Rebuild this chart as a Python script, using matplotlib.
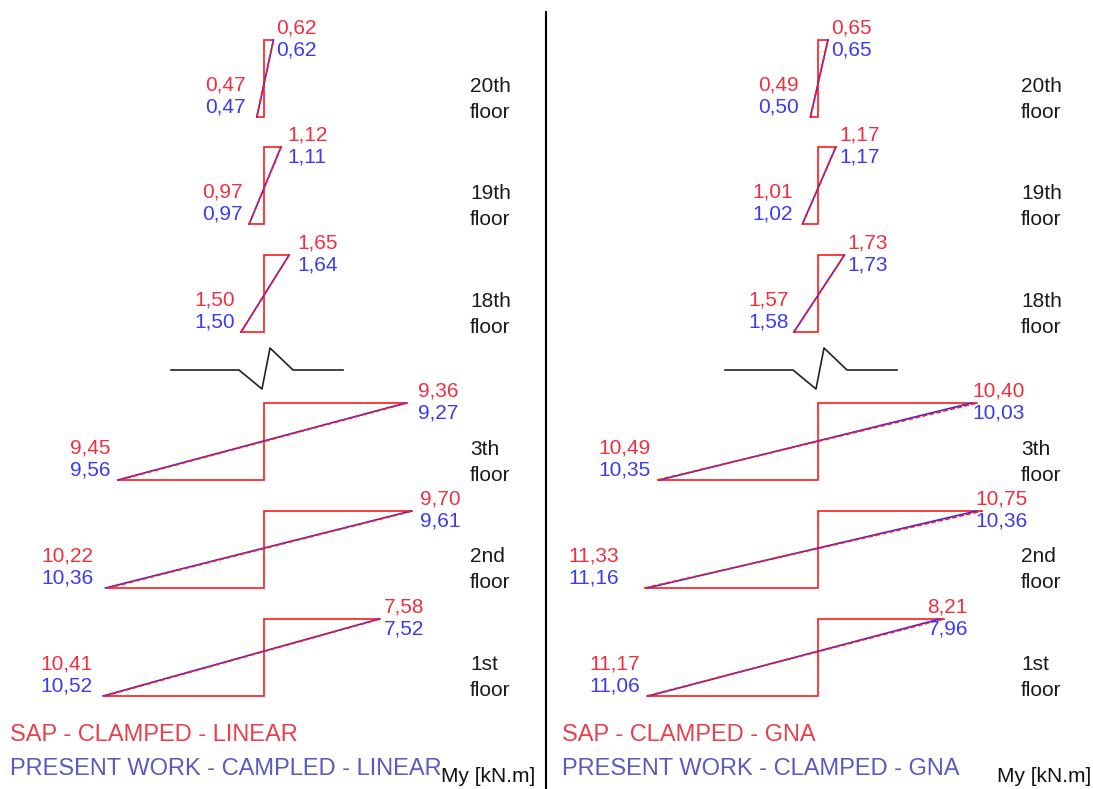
import matplotlib
matplotlib.use("Agg")
import matplotlib.pyplot as plt
from matplotlib.lines import Line2D

plt.rcParams['font.family'] = ['Liberation Sans', 'DejaVu Sans']

# ---------------- data ----------------
floors = ["20th", "19th", "18th", "3th", "2nd", "1st"]

# left panel: linear analysis
lin_sap_left = [0.47, 0.97, 1.50, 9.45, 10.22, 10.41]
lin_sap_right = [0.62, 1.12, 1.65, 9.36, 9.70, 7.58]
lin_pw_left = [0.47, 0.97, 1.50, 9.56, 10.36, 10.52]
lin_pw_right = [0.62, 1.11, 1.64, 9.27, 9.61, 7.52]

# right panel: GNA
gna_sap_left = [0.49, 1.01, 1.57, 10.49, 11.33, 11.17]
gna_sap_right = [0.65, 1.17, 1.73, 10.40, 10.75, 8.21]
gna_pw_left = [0.50, 1.02, 1.58, 10.35, 11.16, 11.06]
gna_pw_right = [0.65, 1.17, 1.73, 10.03, 10.36, 7.96]

legend_lin = ["SAP - CLAMPED - LINEAR", "PRESENT WORK - CAMPLED - LINEAR"]
legend_gna = ["SAP - CLAMPED - GNA", "PRESENT WORK - CLAMPED - GNA"]
unit_label = "My [kN.m]"

# ---------------- layout ----------------
W, H = 1093, 789
S = 15.3                      # pixels per kN.m
floor_tops = [40, 147, 255, 403, 511, 619]
floor_h = 77

RED = '#ff1a1a'
BLUE = '#2a2aff'
TXT_RED = '#f03040'
TXT_BLUE = '#3b3bf0'
LEG_RED = '#e8404c'
LEG_BLUE = '#5a5ac0'

fig = plt.figure(figsize=(W / 100, H / 100), dpi=100)
fig.patch.set_facecolor('white')

panels = [
    dict(x0=0, x1=546, cx=264, sl=lin_sap_left, sr=lin_sap_right,
         pl=lin_pw_left, pr=lin_pw_right, legend=legend_lin,
         rgap=[3, 6, 8, 11, 8, 4], lgap=[-11, -6, -6, -9, -14, -12],
         floor_x=206, unit_x=441, leg_x=10),
    dict(x0=546, x1=1093, cx=818, sl=gna_sap_left, sr=gna_sap_right,
         pl=gna_pw_left, pr=gna_pw_right, legend=legend_gna,
         rgap=[3, 3, 3, -5, -7, -16], lgap=[-12, -10, -5, -7, -26, -7],
         floor_x=203, unit_x=997, leg_x=562),
]

zig = [(-93, 370), (-25, 370), (-2, 389), (6, 348), (29, 370), (79, 370)]

FS = 15
for p in panels:
    ax = fig.add_axes([p['x0'] / W, 0, (p['x1'] - p['x0']) / W, 1])
    ax.set_xlim((p['x0'] - p['cx']) / S, (p['x1'] - p['cx']) / S)
    ax.set_ylim(H, 0)
    ax.axis('off')

    for i, fl in enumerate(floors):
        top = floor_tops[i]
        bot = top + floor_h
        L, R = p['sl'][i], p['sr'][i]
        bl, br = p['pl'][i], p['pr'][i]
        # SAP moment diagram outline
        ax.plot([-L, 0, 0, R], [bot, bot, top, top], color=RED, lw=1.2,
                solid_joinstyle='miter')
        # present work diagonal, SAP diagonal over it
        ax.plot([-bl, br], [bot, top], color=BLUE, lw=1.2)
        ax.plot([-L, R], [bot, top], color=RED, lw=1.2, dashes=(3.0, 1.3))

        # value labels (right end)
        xr = R + p['rgap'][i] / S
        ax.text(xr, top - 12, f"{R:.2f}".replace('.', ','), color=TXT_RED,
                fontsize=FS, ha='left', va='center')
        ax.text(xr, top + 10, f"{br:.2f}".replace('.', ','), color=TXT_BLUE,
                fontsize=FS, ha='left', va='center')
        # value labels (left end)
        xl = -L + p['lgap'][i] / S
        ax.text(xl, bot - 32, f"{L:.2f}".replace('.', ','), color=TXT_RED,
                fontsize=FS, ha='right', va='center')
        ax.text(xl, bot - 10, f"{bl:.2f}".replace('.', ','), color=TXT_BLUE,
                fontsize=FS, ha='right', va='center')
        # floor label
        ax.text(p['floor_x'] / S, bot - 31, fl, color='#1a1a1a', fontsize=FS,
                ha='left', va='center')
        ax.text(p['floor_x'] / S, bot - 5, "floor", color='#1a1a1a',
                fontsize=FS, ha='left', va='center')

    # break symbol
    ax.plot([z[0] / S for z in zig], [z[1] for z in zig], color='#222222',
            lw=1.2)

    # legend texts
    lx = (p['leg_x'] - p['cx']) / S
    ax.text(lx, 735, p['legend'][0], color=LEG_RED, fontsize=17,
            ha='left', va='center')
    ax.text(lx, 769, p['legend'][1], color=LEG_BLUE, fontsize=17,
            ha='left', va='center')
    ax.text((p['unit_x'] - p['cx']) / S, 776, unit_label, color='#111111',
            fontsize=FS, ha='left', va='center')

# divider
fig.add_artist(Line2D([546 / W, 546 / W], [0, 1 - 12 / H], color='black',
                      lw=1.5))

fig.savefig("out.png", dpi=100, facecolor='white')
